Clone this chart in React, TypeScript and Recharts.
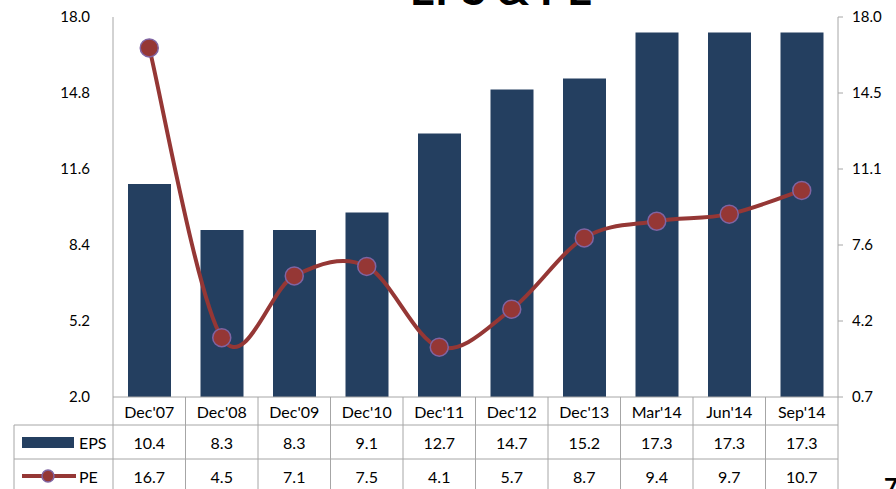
import { ComposedChart, Bar, Line, XAxis, YAxis } from 'recharts'

const CATEGORIES = ["Dec'07", "Dec'08", "Dec'09", "Dec'10", "Dec'11", "Dec'12", "Dec'13", "Mar'14", "Jun'14", "Sep'14"]
const EPS = [10.4, 8.3, 8.3, 9.1, 12.7, 14.7, 15.2, 17.3, 17.3, 17.3]
const PE = [16.7, 4.5, 7.1, 7.5, 4.1, 5.7, 8.7, 9.4, 9.7, 10.7]
const LEFT_TICKS = [2.0, 5.2, 8.4, 11.6, 14.8, 18.0]
const RIGHT_TICKS = [0.7, 4.16, 7.62, 11.08, 14.54, 18.0]

const data = CATEGORIES.map((name, i) => ({ name, eps: EPS[i], pe: PE[i] }))

const W = 896
const H = 489
const FONT = 'Lato, "Noto Sans", sans-serif'
const NAVY = '#243f60'
const RED = '#953735'
const RING = '#8064a2'
const GRID = '#a6a6a6'
const COL_W = (838 - 113) / CATEGORIES.length

// Excel-style smoothed line (Catmull-Rom as cubic beziers)
function excelCurve(context: any) {
  let pts: number[][] = []
  return {
    areaStart() {},
    areaEnd() {},
    lineStart() {
      pts = []
    },
    lineEnd() {
      const n = pts.length
      if (!n) return
      context.moveTo(pts[0][0], pts[0][1])
      for (let i = 0; i < n - 1; i++) {
        const p0 = pts[Math.max(i - 1, 0)]
        const p1 = pts[i]
        const p2 = pts[i + 1]
        const p3 = pts[Math.min(i + 2, n - 1)]
        context.bezierCurveTo(
          p1[0] + (p2[0] - p0[0]) / 6,
          p1[1] + (p2[1] - p0[1]) / 6,
          p2[0] - (p3[0] - p1[0]) / 6,
          p2[1] - (p3[1] - p1[1]) / 6,
          p2[0],
          p2[1],
        )
      }
    },
    point(x: number, y: number) {
      pts.push([+x, +y])
    },
  }
}

const textProps = {
  fontFamily: FONT,
  fontSize: 16,
  fill: '#000',
  dominantBaseline: 'central' as const,
}

// data table drawn under each category
function TableTick(props: any) {
  const { x, y, payload } = props
  const i = payload.index
  const left = x - COL_W / 2
  const right = x + COL_W / 2
  const r1 = y + 28
  const r2 = y + 62
  return (
    <g>
      <line x1={right} y1={y} x2={right} y2={H + 10} stroke={GRID} />
      {i === 0 && <line x1={left} y1={y} x2={left} y2={H + 10} stroke={GRID} />}
      <line x1={left} y1={r1} x2={right} y2={r1} stroke={GRID} />
      <line x1={left} y1={r2} x2={right} y2={r2} stroke={GRID} />
      <text {...textProps} x={x} y={y + 14} textAnchor="middle">{CATEGORIES[i]}</text>
      <text {...textProps} x={x} y={y + 45} textAnchor="middle">{EPS[i].toFixed(1)}</text>
      <text {...textProps} x={x} y={y + 79} textAnchor="middle">{PE[i].toFixed(1)}</text>
      {i === 0 && (
        <g>
          <line x1={left - 99} y1={r1} x2={left} y2={r1} stroke={GRID} />
          <line x1={left - 99} y1={r2} x2={left} y2={r2} stroke={GRID} />
          <line x1={left - 99} y1={r1} x2={left - 99} y2={H + 10} stroke={GRID} />
          <rect x={left - 91} y={y + 40} width={52} height={11} fill={NAVY} />
          <text {...textProps} x={left - 34} y={y + 45}>EPS</text>
          <line x1={left - 91} y1={y + 79} x2={left - 37} y2={y + 79} stroke={RED} strokeWidth={4} />
          <circle cx={left - 65} cy={y + 79} r={6} fill={RED} stroke={RING} strokeWidth={1.5} />
          <text {...textProps} x={left - 34} y={y + 79}>PE</text>
        </g>
      )}
    </g>
  )
}

export default function App() {
  return (
    <div style={{ position: 'absolute', left: 0, top: 0, width: W, height: H, overflow: 'hidden', background: '#fff' }}>
      <ComposedChart width={W} height={H} data={data} margin={{ top: 17, right: 0, left: 0, bottom: 0 }}>
        <XAxis
          dataKey="name"
          height={92}
          interval={0}
          tickSize={0}
          tickMargin={0}
          tickLine={false}
          axisLine={{ stroke: GRID }}
          tick={<TableTick />}
        />
        <YAxis
          yAxisId="left"
          orientation="left"
          width={113}
          domain={[2, 18]}
          ticks={LEFT_TICKS}
          tickFormatter={(v: number) => v.toFixed(1)}
          tickSize={0}
          tickMargin={23}
          tickLine={false}
          axisLine={{ stroke: GRID }}
          tick={{ fontFamily: FONT, fontSize: 15, fill: '#000' }}
        />
        <YAxis
          yAxisId="right"
          orientation="right"
          width={58}
          domain={[0.7, 18]}
          ticks={RIGHT_TICKS}
          tickFormatter={(v: number) => v.toFixed(1)}
          tickSize={5}
          tickMargin={9}
          tickLine={{ stroke: GRID }}
          axisLine={{ stroke: GRID }}
          tick={{ fontFamily: FONT, fontSize: 15, fill: '#000', textAnchor: 'start' }}
        />
        <Bar yAxisId="right" dataKey="eps" fill={NAVY} barSize={43} isAnimationActive={false} />
        <Line
          yAxisId="left"
          dataKey="pe"
          type={excelCurve as any}
          stroke={RED}
          strokeWidth={4}
          dot={{ r: 9, fill: RED, stroke: RING, strokeWidth: 1.5 }}
          activeDot={false}
          isAnimationActive={false}
        />
      </ComposedChart>
      <svg width={W} height={H} style={{ position: 'absolute', left: 0, top: 0, pointerEvents: 'none' }}>
        <text x={501} y={5} textAnchor="middle" fontFamily={FONT} fontWeight="bold" fontSize={44} fill="#000">
          EPS &amp; PE
        </text>
        <text x={884} y={496} fontFamily={FONT} fontWeight="bold" fontSize={24} fill="#000">
          7
        </text>
      </svg>
    </div>
  )
}
